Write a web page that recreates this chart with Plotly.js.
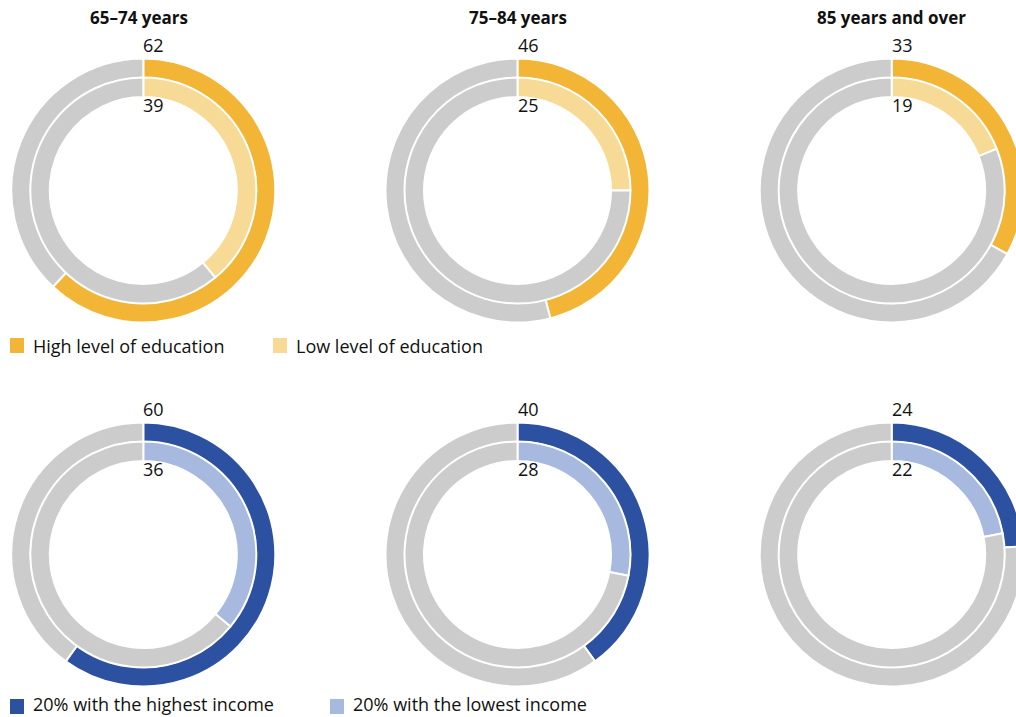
<!DOCTYPE html>
<html>
<head>
<meta charset="utf-8">
<script src="https://cdn.plot.ly/plotly-3.0.1.min.js"></script>
<style>
  html, body { margin: 0; padding: 0; background: #ffffff; overflow: hidden; width: 1016px; height: 717px; }
  #chart { width: 1040px; height: 717px; }
</style>
</head>
<body>
<div id="chart"></div>
<script>
// ---- Data (percent) ----
const ageGroups = ['65–74 years', '75–84 years', '85 years and over'];
const eduHigh = [62, 46, 33];
const eduLow = [39, 25, 19];
const incHigh = [60, 40, 24];
const incLow = [36, 28, 22];
const seriesNames = ['High level of education', 'Low level of education',
                     '20% with the highest income', '20% with the lowest income'];

// ---- Styling ----
const W = 1040, H = 717;
const FONT = '"Open Sans", "Noto Sans", sans-serif';
const colEduHigh = '#F3B536';
const colEduLow = '#F6DA95';
const colIncHigh = '#2D51A1';
const colIncLow = '#A7B9DF';
const colRest = '#CCCCCC';
const colCx = [143.3, 517.5, 891.7];
const rowCy = [190.5, 554.5];
const titleX = [139, 518, 891];
const R_OUT = 132, HOLE_OUT = 112.5;
const R_IN = 113, HOLE_IN = 93.5;

function px2x(px) { return px / W; }
function px2y(py) { return 1 - py / H; }

const rows = [
  { outer: eduHigh, inner: eduLow, cOut: colEduHigh, cIn: colEduLow, nOut: seriesNames[0], nIn: seriesNames[1] },
  { outer: incHigh, inner: incLow, cOut: colIncHigh, cIn: colIncLow, nOut: seriesNames[2], nIn: seriesNames[3] }
];

const traces = [];
const annotations = [];
const shapes = [];

rows.forEach((row, r) => {
  const cy = rowCy[r];
  ageGroups.forEach((g, c) => {
    const cx = colCx[c];
    [[row.outer[c], row.cOut, row.nOut, R_OUT, HOLE_OUT],
     [row.inner[c], row.cIn, row.nIn, R_IN, HOLE_IN]].forEach(([v, col, name, R, hole]) => {
      traces.push({
        type: 'pie',
        values: [v, 100 - v],
        labels: [name, 'Other'],
        sort: false,
        direction: 'clockwise',
        rotation: 0,
        hole: hole / R,
        textinfo: 'none',
        textposition: 'none',
        hoverinfo: 'skip',
        showlegend: false,
        marker: { colors: [col, colRest], line: { color: '#ffffff', width: 2 } },
        domain: { x: [px2x(cx - R), px2x(cx + R)], y: [px2y(cy + R), px2y(cy - R)] }
      });
    });
    // value labels
    annotations.push({
      xref: 'paper', yref: 'paper', x: px2x(cx + 10.5), y: px2y(cy - 145.5),
      xanchor: 'center', yanchor: 'middle', showarrow: false,
      text: String(row.outer[c]), font: { family: FONT, size: 18, color: '#111111' }
    });
    annotations.push({
      xref: 'paper', yref: 'paper', x: px2x(cx + 10.5), y: px2y(cy - 85.5),
      xanchor: 'center', yanchor: 'middle', showarrow: false,
      text: String(row.inner[c]), font: { family: FONT, size: 18, color: '#111111' }
    });
  });
});

// column titles
ageGroups.forEach((g, c) => {
  annotations.push({
    xref: 'paper', yref: 'paper', x: px2x(titleX[c]), y: px2y(17),
    xanchor: 'center', yanchor: 'middle', showarrow: false,
    text: '<b>' + g + '</b>', font: { family: FONT, size: 17, color: '#111111' }
  });
});

// legends
const legendItems = [
  { name: seriesNames[0], col: colEduHigh, x: 10, y: 345.5 },
  { name: seriesNames[1], col: colEduLow, x: 273, y: 345.5 },
  { name: seriesNames[2], col: colIncHigh, x: 10, y: 706.5 },
  { name: seriesNames[3], col: colIncLow, x: 330, y: 706.5 }
];
legendItems.forEach((it, i) => {
  shapes.push({
    type: 'rect', xref: 'paper', yref: 'paper',
    x0: px2x(it.x), x1: px2x(it.x + 14), y0: px2y(it.y + 7.5), y1: px2y(it.y - 7.5),
    fillcolor: it.col, line: { width: 0 }
  });
  const bottomRow = i >= 2;
  annotations.push({
    xref: 'paper', yref: 'paper', x: px2x(it.x + 22), y: bottomRow ? 0 : px2y(it.y),
    xanchor: 'left', yanchor: bottomRow ? 'bottom' : 'middle', showarrow: false,
    borderpad: 0,
    text: it.name, font: { family: FONT, size: 18, color: '#111111' }
  });
});

const layout = {
  width: W, height: H,
  margin: { l: 0, r: 0, t: 0, b: 0, pad: 0 },
  paper_bgcolor: '#ffffff',
  showlegend: false,
  annotations: annotations,
  shapes: shapes,
  font: { family: FONT }
};

Plotly.newPlot('chart', traces, layout, { staticPlot: true, displayModeBar: false });
</script>
</body>
</html>
